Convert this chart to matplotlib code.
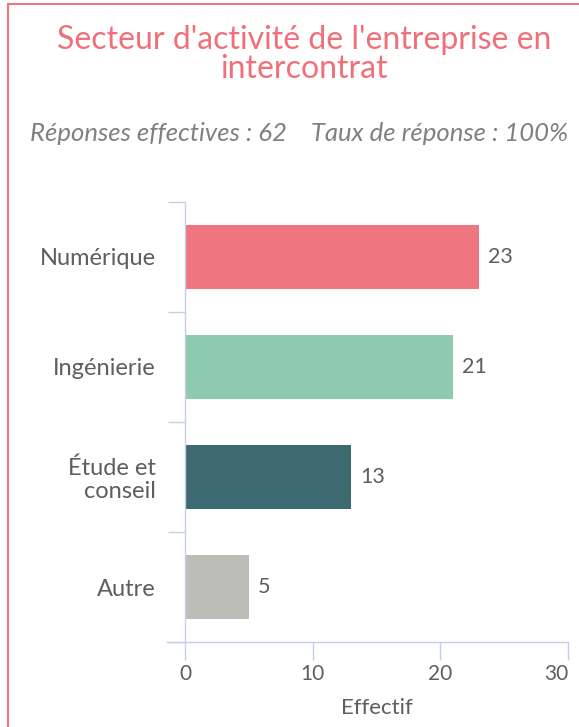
import matplotlib.pyplot as plt
from matplotlib.patches import Rectangle

categories = ["Numérique", "Ingénierie", "Étude et\nconseil", "Autre"]
values = [23, 21, 13, 5]
colors = ["#EF7680", "#8DCAAE", "#3D6970", "#BDBDB7"]
x_ticks = [0, 10, 20, 30]

plt.rcParams['font.family'] = ['Lato', 'DejaVu Sans']
axis_color = "#C5D0E6"
text_color = "#5E5E5E"

fig = plt.figure(figsize=(5.79, 7.27), dpi=100)
ax = fig.add_axes([0.3195, 0.1169, 0.9810 - 0.3195, 0.7222 - 0.1169])

pos = list(range(len(categories)))
ax.barh(pos, values, height=0.58, color=colors)
for p, v in zip(pos, values):
    ax.text(v + 0.7, p, str(v), va='center', ha='left', fontsize=15.5, color=text_color)

ax.set_xlim(0, 30)
ax.set_ylim(len(categories) - 0.5, -0.5)
ax.set_xticks(x_ticks)
ax.set_yticks(pos)
ax.set_yticklabels(categories, ha='right', multialignment='right', linespacing=1.1)
ax.set_yticks([p - 0.5 for p in pos] + [len(categories) - 0.5], minor=True)
ax.tick_params(axis='y', which='major', length=0, pad=21, labelsize=17, labelcolor=text_color)
ax.tick_params(axis='y', which='minor', length=12, width=1, color=axis_color)
ax.tick_params(axis='x', length=13, width=1, color=axis_color, labelsize=15,
               labelcolor=text_color, pad=3)
ax.get_xticklabels()[-1].set_horizontalalignment('right')
ax.get_xticklabels()[-1].set_x(30.5)

for s in ['top', 'right']:
    ax.spines[s].set_visible(False)
for s in ['left', 'bottom']:
    ax.spines[s].set_color(axis_color)
    ax.spines[s].set_linewidth(1)
ax.spines['bottom'].set_bounds(-1.4, 30)
ax.set_xlabel("Effectif", fontsize=16, color=text_color, labelpad=10)

fig.text(0.525, 0.925, "Secteur d'activité de l'entreprise en\nintercontrat", ha='center',
         va='center', fontsize=23, color="#F0707A", linespacing=0.95)
fig.text(0.052, 0.817, "Réponses effectives : 62    Taux de réponse : 100%", ha='left',
         va='center', fontsize=18.5, style='italic', color="#808080")

fig.patches.append(Rectangle((8 / 579, -0.1), 1.2, 1.1 - 4 / 727, transform=fig.transFigure,
                             fill=False, edgecolor="#EF7680", linewidth=1.5, clip_on=False))

fig.savefig("out.png", dpi=100)
